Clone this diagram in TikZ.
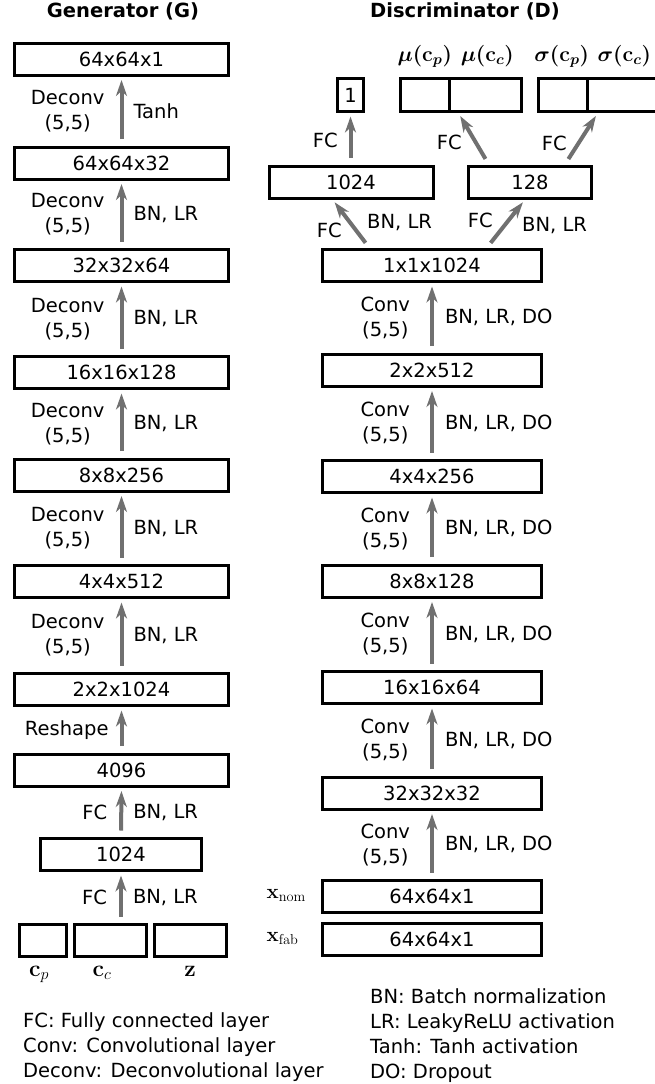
\RequirePackage{fix-cm}
\documentclass[tikz,border=0pt]{standalone}
\usepackage[no-math]{fontspec}
\setmainfont{DejaVu Sans}
\usepackage{amsmath,bm}
\usetikzlibrary{arrows.meta}
\definecolor{arrgray}{HTML}{707070}
\begin{document}
\begin{tikzpicture}[x=1pt,y=-1pt,
  txt/.style={font=\fontsize{19.5}{25}\selectfont, inner sep=0pt},
  mth/.style={font=\fontsize{21.5}{26}\selectfont, inner sep=0pt},
  lay/.style={txt, draw, line width=3pt, minimum height=32pt},
  glay/.style={lay, minimum width=214pt},
  dlay/.style={lay, minimum width=219pt},
  cell/.style={lay, minimum height=33pt},
  arr/.style={draw=arrgray, line width=4pt, -{Stealth[length=16pt,width=11pt,inset=5pt]}, shorten <=6.5pt, shorten >=3.5pt},
  lblL/.style={txt, align=center, anchor=east},
  lblR/.style={txt, align=left, anchor=west},
  ttl/.style={font=\fontsize{19.5}{25}\selectfont\bfseries, inner sep=0pt},
]
\useasboundingbox (0,0) rectangle (654,1084);

% titles
\node[ttl] (tG) at (123,11) {Generator (G)};
\node[ttl] (tD) at (465,11) {Discriminator (D)};

% generator
\node[glay] (g1) at (121.5,59) {64x64x1};
\node[glay] (g2) at (121.5,163) {64x64x32};
\node[glay] (g3) at (121.5,265.5) {32x32x64};
\node[glay] (g4) at (121.5,372.5) {16x16x128};
\node[glay] (g5) at (121.5,475) {8x8x256};
\node[glay] (g6) at (121.5,581.5) {4x4x512};
\node[glay] (g7) at (121.5,689.5) {2x2x1024};
\node[glay] (g8) at (121.5,770) {4096};
\node[lay, minimum width=161pt] (g9) at (121,854.5) {1024};
\node[lay, minimum width=47pt] (gcp) at (43,940.5) {};
\node[lay, minimum width=72pt] (gcc) at (110.5,940.5) {};
\node[lay, minimum width=72pt] (gz) at (190.5,940.5) {};
\node[mth, font=\fontsize{23}{27}\selectfont, anchor=base] (lcp) at (39,976) {$\mathbf{c}_p$};
\node[mth, font=\fontsize{23}{27}\selectfont, anchor=base] (lcc) at (102,976) {$\mathbf{c}_c$};
\node[mth, font=\fontsize{23}{27}\selectfont, anchor=base] (lz) at (190,976) {$\mathbf{z}$};

\draw[arr] (g2.north) -- node[lblL, xshift=-15pt]{Deconv\\(5,5)} node[lblR, xshift=10pt]{Tanh} (g1.south);
\draw[arr] (g3.north) -- node[lblL, xshift=-15pt]{Deconv\\(5,5)} node[lblR, xshift=10pt]{BN, LR} (g2.south);
\draw[arr] (g4.north) -- node[lblL, xshift=-15pt]{Deconv\\(5,5)} node[lblR, xshift=10pt]{BN, LR} (g3.south);
\draw[arr] (g5.north) -- node[lblL, xshift=-15pt]{Deconv\\(5,5)} node[lblR, xshift=10pt]{BN, LR} (g4.south);
\draw[arr] (g6.north) -- node[lblL, xshift=-15pt]{Deconv\\(5,5)} node[lblR, xshift=10pt]{BN, LR} (g5.south);
\draw[arr] (g7.north) -- node[lblL, xshift=-15pt]{Deconv\\(5,5)} node[lblR, xshift=10pt]{BN, LR} (g6.south);
\draw[arr] (g8.north) -- node[lblL, xshift=-11pt]{Reshape} (g7.south);
\draw[arr] (g9.north) -- node[lblL, xshift=-12pt]{FC} node[lblR, xshift=10pt]{BN, LR} (g8.south);
\draw[arr] (g9.south |- gcc.north) -- node[lblL, xshift=-12pt]{FC} node[lblR, xshift=10pt]{BN, LR} (g9.south);

% discriminator
\node[dlay] (d1) at (432,265.5) {1x1x1024};
\node[dlay] (d2) at (432,370) {2x2x512};
\node[dlay] (d3) at (432,476.5) {4x4x256};
\node[dlay] (d4) at (432,581) {8x8x128};
\node[dlay] (d5) at (432,687.5) {16x16x64};
\node[dlay] (d6) at (432,793) {32x32x32};
\node[dlay] (xnom) at (432,896.5) {64x64x1};
\node[dlay] (xfab) at (432,939.5) {64x64x1};
\node[mth, font=\fontsize{20.5}{25}\selectfont, anchor=base west] (lnom) at ([xshift=-54.5pt,yshift=-1.5pt]xnom.west) {$\mathbf{x}_{\mathrm{nom}}$};
\node[mth, font=\fontsize{20.5}{25}\selectfont, anchor=base west] (lfab) at ([xshift=-54.5pt,yshift=-1.5pt]xfab.west) {$\mathbf{x}_{\mathrm{fab}}$};

\node[lay, minimum width=164pt] (dfc1) at (351,182) {1024};
\node[lay, minimum width=123pt] (dfc2) at (530,182) {128};
\node[cell, minimum width=26pt] (one) at (350.5,95) {1};
\node[cell, minimum width=48.5pt] (muP) at (424.75,95) {};
\node[cell, minimum width=72.5pt] (muC) at (485.25,95) {};
\node[cell, minimum width=48.5pt] (sgP) at (562.75,95) {};
\node[cell, minimum width=72.5pt] (sgC) at (623.25,95) {};
\node[mth, anchor=base] (lmuP) at ([yshift=15.5pt]muP.north) {$\bm{\mu(\mathbf{c}_p)}$};
\node[mth, anchor=base] (lmuC) at ([yshift=15.5pt,xshift=2pt]muC.north) {$\bm{\mu(\mathbf{c}_c)}$};
\node[mth, anchor=base] (lsgP) at ([yshift=15.5pt,xshift=-1pt]sgP.north) {$\bm{\sigma(\mathbf{c}_p)}$};
\node[mth, anchor=base] (lsgC) at ([yshift=15.5pt,xshift=1pt]sgC.north) {$\bm{\sigma(\mathbf{c}_c)}$};

\draw[arr] (xnom.north) -- node[lblL, xshift=-20pt]{Conv\\(5,5)} node[lblR, xshift=11pt]{BN, LR, DO} (d6.south);
\draw[arr] (d6.north) -- node[lblL, xshift=-20pt]{Conv\\(5,5)} node[lblR, xshift=11pt]{BN, LR, DO} (d5.south);
\draw[arr] (d5.north) -- node[lblL, xshift=-20pt]{Conv\\(5,5)} node[lblR, xshift=11pt]{BN, LR, DO} (d4.south);
\draw[arr] (d4.north) -- node[lblL, xshift=-20pt]{Conv\\(5,5)} node[lblR, xshift=11pt]{BN, LR, DO} (d3.south);
\draw[arr] (d3.north) -- node[lblL, xshift=-20pt]{Conv\\(5,5)} node[lblR, xshift=11pt]{BN, LR, DO} (d2.south);
\draw[arr] (d2.north) -- node[lblL, xshift=-20pt]{Conv\\(5,5)} node[lblR, xshift=11pt]{BN, LR, DO} (d1.south);

\draw[arr] ([xshift=48.5pt]d1.north west) -- ([xshift=65pt]dfc1.south west);
\draw[arr] ([xshift=165.6pt]d1.north west) -- ([xshift=58.1pt]dfc2.south west);
\draw[arr] (one.south |- dfc1.north) -- (one.south);
\draw[arr] ([xshift=21.8pt]dfc2.north west) -- ([xshift=10.9pt]muC.south west);
\draw[arr] ([xshift=97.9pt]dfc2.north west) -- ([xshift=12.3pt]sgC.south west);

\node[lblL] (fc1) at (342,230) {FC};
\node[lblR] (bn1) at (367,223) {BN, LR};
\node[lblL] (fc2) at (493,220) {FC};
\node[lblR] (bn2) at (522,226) {BN, LR};
\node[lblL] (fc3) at (338,140) {FC};
\node[lblL] (fc4) at (462,142) {FC};
\node[lblL] (fc5) at (567,143) {FC};

% legends
\node[txt, align=left, anchor=west] (legL) at (23,1047) {FC: Fully connected layer\\Conv: Convolutional layer\\Deconv: Deconvolutional layer};
\node[txt, align=left, anchor=west] (legR) at (370,1035.5) {BN: Batch normalization\\LR: LeakyReLU activation\\Tanh: Tanh activation\\DO: Dropout};
\end{tikzpicture}
\end{document}
